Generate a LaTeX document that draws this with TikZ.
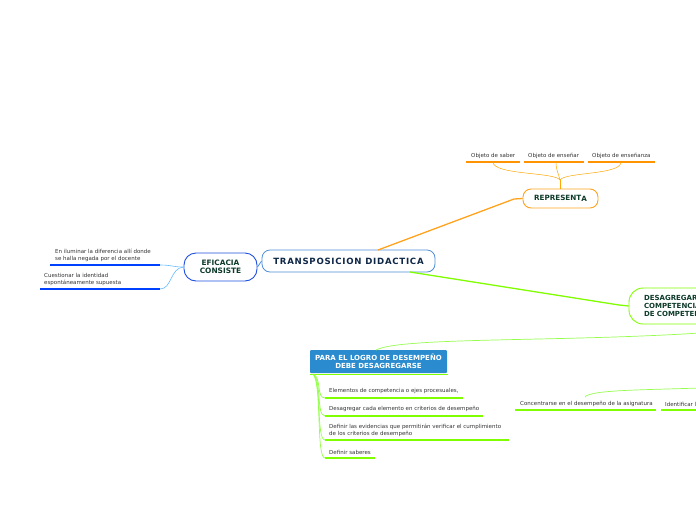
\documentclass[tikz,border=0pt]{standalone}
\usepackage{fontspec}
\setmainfont{DejaVu Sans}
\begin{document}
\begin{tikzpicture}[x=1pt,y=-1pt,
  leaf/.style={anchor=south west,inner sep=0pt,align=left,font=\fontsize{5.5}{6.9}\selectfont,text=black!80},
  orangec/.style={draw=orange!70!yellow,line width=0.5pt},
  orangeu/.style={draw=orange!85!yellow,line width=1.3pt},
  greenc/.style={draw=green!60!yellow!70!white,line width=0.7pt},
  greenu/.style={draw=green!50!yellow,line width=1.4pt},
  blueu/.style={draw=blue!75!cyan,line width=1.3pt},
  bluec/.style={draw=blue!45!cyan!60!white,line width=0.6pt},
  mainbox/.style={draw,fill=white,rounded corners=8pt,font=\bfseries\fontsize{7.4}{9}\selectfont,text=black!60!green!40!black,align=center,inner sep=0pt}
]
\definecolor{navy}{HTML}{0F2747}
\definecolor{dgreen}{HTML}{0E3B2A}
\definecolor{cblue}{HTML}{4F8FD8}
\definecolor{eblue}{HTML}{1F4FE0}
\definecolor{lgreen}{HTML}{80FF00}
\definecolor{lorange}{HTML}{FFA21E}
\definecolor{pblue}{HTML}{2A8CCF}
\useasboundingbox (0,0) rectangle (696,520);
\clip (0,0) rectangle (696,520);

% ---- nodes
\node[mainbox,draw=cblue,line width=0.8pt,minimum width=173pt,minimum height=22pt,text=navy,font=\bfseries\fontsize{8.6}{10}\selectfont\addfontfeature{LetterSpace=8.5}] (central) at (348.5,261) {TRANSPOSICION DIDACTICA};
\node[mainbox,draw=eblue,line width=0.9pt,rounded corners=12pt,minimum width=73pt,minimum height=28pt,text=dgreen,font=\bfseries\fontsize{7.4}{8.2}\selectfont] (efic) at (220.5,267) {EFICACIA\\CONSISTE};
\node[mainbox,draw=lorange,line width=0.9pt,minimum width=75pt,minimum height=19pt,text=dgreen,font=\bfseries\fontsize{7.2}{8}\selectfont] (repr) at (560.5,198.5) {REPRESENT\raisebox{-1.3pt}{A}};
\node[mainbox,draw=lgreen,line width=0.9pt,rounded corners=14pt,minimum width=170pt,minimum height=36pt,text=dgreen,font=\bfseries\fontsize{7}{8.4}\selectfont,text width=150pt,align=left] (desag) at (714,306) {\hspace*{5pt}DESAGREGAR\\\hspace*{5pt}COMPETENCIAS\\\hspace*{5pt}DE COMPETENCIA};
\node[fill=pblue,rounded corners=1pt,minimum width=137pt,minimum height=23pt,inner sep=0pt,text=white,font=\bfseries\fontsize{7}{8.2}\selectfont,align=center] (para) at (378.5,361.5) {PARA EL LOGRO DE DESEMPEÑO\\DEBE DESAGREGARSE};

% ---- leaves
\node[leaf] (l1) at (55,262) {En iluminar la diferencia allí donde\\se halla negada por el docente};
\node[leaf] (l2) at (44,286) {Cuestionar la identidad\\espontáneamente supuesta};
\node[leaf] (o1) at (471,159) {Objeto de saber};
\node[leaf] (o2) at (528,159) {Objeto de enseñar};
\node[leaf] (o3) at (592,159) {Objeto de enseñanza};
\node[leaf] (p1) at (329,394) {Elementos de competencia o ejes procesuales,};
\node[leaf] (p2) at (329,412) {Desagregar cada elemento en criterios de desempeño};
\node[leaf] (p3) at (329,437) {Definir las evidencias que permitirán verificar el cumplimiento\\de los criterios de desempeño};
\node[leaf] (p4) at (329,455) {Definir saberes};
\node[leaf] (c1) at (520,407) {Concentrarse en el desempeño de la asignatura};
\node[leaf] (c2) at (665,407) {Identificar los};

% ---- underline coordinates
\coordinate (l1a) at (50,265); \coordinate (l1b) at (160,265);
\coordinate (l2a) at (40,289); \coordinate (l2b) at (160,289);
\coordinate (o1a) at (466,162); \coordinate (o1b) at (520,162); \coordinate (o1m) at (493,162);
\coordinate (o2a) at (524,162); \coordinate (o2b) at (584,162); \coordinate (o2m) at (556,162);
\coordinate (o3a) at (588,162); \coordinate (o3b) at (655,162); \coordinate (o3m) at (621,162);
\coordinate (p1a) at (325,398); \coordinate (p1b) at (463,398);
\coordinate (p2a) at (325,416); \coordinate (p2b) at (483,416);
\coordinate (p3a) at (325,440); \coordinate (p3b) at (509,440);
\coordinate (p4a) at (325,458); \coordinate (p4b) at (375,458);
\coordinate (c1a) at (515,410); \coordinate (c1b) at (656,410);
\coordinate (c2a) at (661,410); \coordinate (c2b) at (700,410);
\coordinate (pa) at (310,374); \coordinate (pb) at (448,374);

% ---- underlines
\draw[blueu] (l1a) -- (l1b);
\draw[blueu] (l2a) -- (l2b);
\draw[orangeu] (o1a) -- (o1b);
\draw[orangeu] (o2a) -- (o2b);
\draw[orangeu] (o3a) -- (o3b);
\draw[greenu] (p1a) -- (p1b);
\draw[greenu] (p2a) -- (p2b);
\draw[greenu] (p3a) -- (p3b);
\draw[greenu] (p4a) -- (p4b);
\draw[greenu] (c1a) -- (c1b);
\draw[greenu] (c2a) -- (c2b);
\draw[greenu,line width=1pt] (pa) -- (pb);

% ---- connectors
\coordinate (cen-o) at (378,250);
\coordinate (cen-g) at (410,272);
\coordinate (rtop) at (560,189);
\coordinate (rjoin) at (560,180);
\coordinate (dbot) at (700,333);
\coordinate (ptop) at (376,350);
\coordinate (dbot2) at (700,388);
\coordinate (cstart) at (585,397);
\coordinate (pbl) at (313,374);

\draw[draw=lorange,line width=1.3pt] (cen-o) -- (514,199) -- (repr.west);
\draw[draw=lgreen,line width=1.3pt] (cen-g) -- (619,305) -- (desag.west);
\draw[draw=cblue,line width=0.8pt] (central.west) -- (efic.east);
\draw[bluec] (efic.west) .. controls (172,267) and (172,265) .. (l1b);
\draw[bluec] (efic.west) .. controls (170,268) and (172,289) .. (l2b);
\draw[orangec] (rtop) -- (rjoin);
\draw[orangec] (rjoin) .. controls (555,172) and (493,175) .. (o1m);
\draw[orangec] (rjoin) .. controls (558,172) and (556,170) .. (o2m);
\draw[orangec] (rjoin) .. controls (565,172) and (621,175) .. (o3m);
\draw[greenc] (dbot) .. controls (560,342) and (400,337) .. (ptop);
\draw[greenc] (dbot2) .. controls (640,390) and (590,390) .. (cstart);
\draw[greenc] (pbl) .. controls (322,378) and (316,398) .. (p1a);
\draw[greenc] (pbl) .. controls (322,380) and (316,416) .. (p2a);
\draw[greenc] (pbl) .. controls (322,382) and (316,440) .. (p3a);
\draw[greenc] (pbl) .. controls (322,384) and (316,458) .. (p4a);
\end{tikzpicture}
\end{document}
